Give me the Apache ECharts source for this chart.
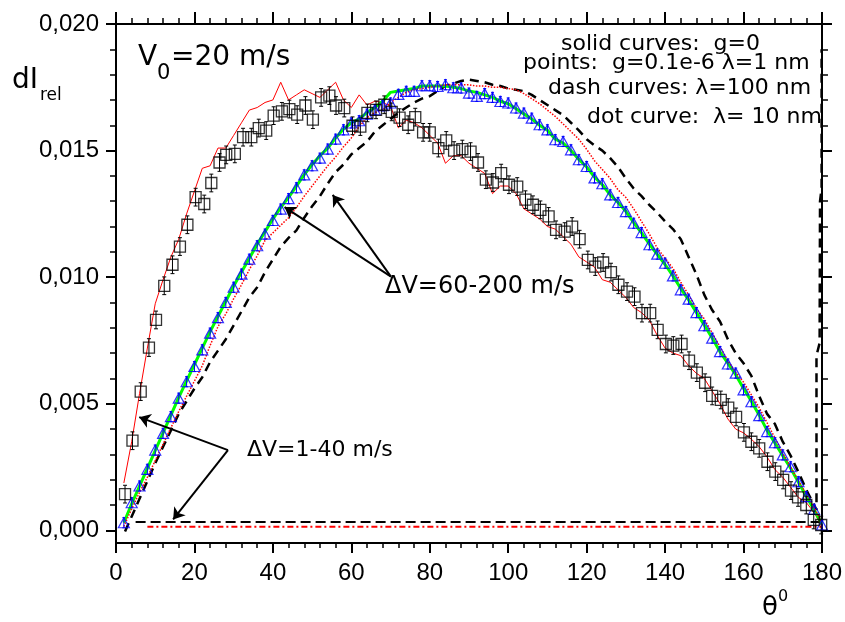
<!DOCTYPE html>
<html><head><meta charset="utf-8">
<script src="https://cdn.jsdelivr.net/npm/echarts@6/dist/echarts.min.js"></script>
<style>html,body{margin:0;padding:0;background:#fff}#c{width:845px;height:622px}</style>
</head><body><div id="c"></div>
<script>
// ---- data (theta in degrees, dI_rel) ----
const thetaGrid = [2,4,6,8,10,12,14,16,18,20,22,24,26,28,30,32,34,36,38,40,42,44,46,48,50,52,54,56,58,60,62,64,66,68,70,72,74,76,78,80,82,84,86,88,90,92,94,96,98,100,102,104,106,108,110,112,114,116,118,120,122,124,126,128,130,132,134,136,138,140,142,144,146,148,150,152,154,156,158,160,162,164,166,168,170,172,174,176,178,180];

// dV=1-40 m/s, g=0 (red solid)
const slowSolid = [0.00187,0.0035,0.0054,0.0072,0.00895,0.0099,0.0108,0.0115,0.0125,0.0134,
0.0143,0.0144,0.0151,0.0151,0.0156,0.0161,0.0166,0.0167,0.0169,0.0170,
0.0177,0.0170,0.0172,0.0174,0.01725,0.0171,0.0174,0.0177,0.0170,0.0167,
0.0172,0.0168,0.01695,0.0169,0.01675,0.0159,0.0162,0.0161,0.0159,0.0156,
0.0153,0.0145,0.0148,0.0148,0.0145,0.0143,0.0141,0.0133,0.0136,0.0136,
0.0133,0.0127,0.0125,0.0123,0.0120,0.0119,0.0116,0.0113,0.0108,0.0106,
0.0104,0.0099,0.0098,0.0095,0.0092,0.0088,0.0086,0.0083,0.0077,0.0072,
0.0070,0.0069,0.0065,0.0062,0.0060,0.0055,0.0050,0.0044,0.0040,0.00385,
0.0036,0.0033,0.0029,0.0024,0.0021,0.0017,0.0013,0.0011,0.0007,0.00015];

// dV=1-40 m/s, points g=0.1e-6 (open squares)
const slowPointsX = [2.3,4.2,6.3,8.4,10.2,12.3,14.4,16.3,18.2,20.3,22.5,24.3,26.4,28.1,30.3,32.4,34.5,36.4,38.3,40.2,
42.3,44.2,46.2,48.3,50.2,52.3,54.4,56.1,58.2,60.3,62.3,64.1,66.3,68.4,70.3,72.3,74.5,76.3,78.3,80.0,
82.2,84.2,86.2,88.3,90.4,92.3,94.3,96.1,98.2,100.2,102.3,104.4,106.3,108.2,110.3,112.2,114.4,116.3,118.2,120.3,
122.2,124.2,126.2,128.1,130.3,132.2,134.1,136.2,138.1,140.2,142.1,144.2,146.1,148.1,150.2,152.0,154.2,156.1,158.1,160.1,
162.0,164.0,166.1,168.1,170.1,172.1,173.9,176.0,177.9,179.8];
const slowPointsY = [0.00143,0.00354,0.00548,0.00722,0.00831,0.00966,0.01049,0.01121,0.01207,0.01316,
0.01289,0.01372,0.01453,0.01483,0.01487,0.01553,0.01553,0.01589,0.01579,0.01638,
0.01655,0.01664,0.01642,0.01678,0.01622,0.01710,0.01717,0.01678,0.01668,0.01598,
0.01595,0.01649,0.01661,0.01681,0.01653,0.01630,0.01602,0.01632,0.01572,0.01572,
0.01510,0.01540,0.01500,0.01506,0.01496,0.01453,0.01385,0.01374,0.01411,0.01365,
0.01358,0.01306,0.01286,0.01266,0.01240,0.01187,0.01180,0.01200,0.01150,0.01068,
0.01042,0.01058,0.01020,0.00970,0.00943,0.00923,0.00858,0.00858,0.00792,0.00736,
0.00730,0.00736,0.00670,0.00623,0.00583,0.00531,0.00515,0.00485,0.00448,0.00387,
0.00350,0.00324,0.00271,0.00232,0.00199,0.00157,0.00130,0.00100,0.00041,0.00021];
const slowPointsErr = 0.00035;

// dV=60-200 m/s, g=0 (green solid)
const fastSolid = [0.0003,0.00105,0.00175,0.00245,0.00315,0.00385,0.00455,0.00525,0.0059,0.00655,
0.0072,0.00785,0.00845,0.00905,0.00965,0.0102,0.01075,0.0113,0.0118,0.0123,
0.01275,0.01315,0.0136,0.01405,0.01445,0.0148,0.0151,0.0155,0.01585,0.0161,
0.01625,0.0165,0.0167,0.01695,0.0173,0.01735,0.0174,0.01745,0.01755,0.01755,
0.01755,0.01755,0.0175,0.01745,0.01735,0.0173,0.0172,0.0171,0.01695,0.01685,
0.01665,0.01645,0.01625,0.0160,0.0158,0.01545,0.0153,0.0150,0.01465,0.01435,
0.01395,0.01365,0.01325,0.01295,0.0126,0.01215,0.01175,0.0113,0.0109,0.0105,
0.01005,0.00955,0.0091,0.0086,0.0081,0.0076,0.00705,0.0066,0.00615,0.0056,
0.0051,0.00455,0.00395,0.00345,0.00295,0.00245,0.0019,0.00135,0.0008,0.00025];

// dV=60-200 m/s, points g=0.1e-6 (open triangles)
const fastPoints = [0.00030,0.00109,0.00175,0.00241,0.00317,0.00383,0.00449,0.00522,0.00587,0.00647,
0.00713,0.00779,0.00840,0.00900,0.00960,0.01012,0.01071,0.01124,0.01170,0.01224,
0.01269,0.01310,0.01353,0.01404,0.01440,0.01470,0.01506,0.01545,0.01582,0.01609,
0.01618,0.01644,0.01661,0.01677,0.01688,0.01722,0.01734,0.01734,0.01756,0.01756,
0.01753,0.01760,0.01748,0.01747,0.01727,0.01714,0.01725,0.01710,0.01694,0.01688,
0.01668,0.01648,0.01628,0.01602,0.01582,0.01543,0.01536,0.01503,0.01464,0.01437,
0.01392,0.01369,0.01325,0.01295,0.01259,0.01213,0.01176,0.01128,0.01091,0.01055,
0.01005,0.00950,0.00913,0.00860,0.00808,0.00759,0.00706,0.00657,0.00621,0.00555,
0.00508,0.00453,0.00390,0.00346,0.00298,0.00251,0.00192,0.00133,0.00083,0.00021];
const fastPointsErr = 0.0002;

// dV=60-200 m/s, lambda=10 nm (red dotted)
const fastDot = [0.00015,0.00085,0.0015,0.0021,0.00275,0.0034,0.00405,0.0047,0.0053,0.0059,
0.0065,0.0073,0.00805,0.00855,0.00915,0.0097,0.0103,0.01085,0.01145,0.01175,
0.01205,0.01235,0.01275,0.0132,0.0136,0.0140,0.0144,0.01475,0.01515,0.0155,
0.01595,0.0163,0.0165,0.0166,0.0169,0.0171,0.0173,0.0174,0.01745,0.0175,
0.01755,0.0176,0.0176,0.0176,0.0176,0.01755,0.01755,0.0175,0.0175,0.01745,
0.0174,0.01725,0.01705,0.01685,0.0166,0.01635,0.01605,0.01575,0.01545,0.01505,
0.0146,0.01425,0.0139,0.01345,0.01315,0.0127,0.0122,0.0117,0.01115,0.01075,
0.01035,0.0098,0.0093,0.00875,0.00835,0.0078,0.00725,0.0067,0.00625,0.00585,
0.00535,0.00485,0.00425,0.00365,0.00305,0.0025,0.00195,0.00145,0.0009,0.0003];

// dV=60-200 m/s, lambda=100 nm (black dashed)
const fastDashX = [2.3,4,6,8,10,12,14,16,18,20,22,24,26,28,30,32,34,36,38,40,42,44,46,48,50,52,54,56,58,60,62,64,66,68,70,72,74,76,78,80,82,84,86,88,90,92,94,96,98,100,102,104,106,108,110,112,114,116,118,120,122,124,126,128,130,132,134,136,138,140,142,144,146,148,150,152,154,156,158,160,162,164,166,168,170,172,174,176,178,178.6,178.6,179.4,179.5,179.9,179.9];
const fastDashY = [-0.00005,0.00055,0.00125,0.00195,0.00265,0.0033,0.00395,0.0046,0.0051,0.0056,
0.00605,0.00665,0.0071,0.00755,0.0081,0.00865,0.0092,0.0096,0.0102,0.0107,
0.0112,0.01155,0.01185,0.01235,0.0128,0.0132,0.0137,0.01415,0.01445,0.01485,
0.0151,0.01535,0.01575,0.0160,0.01625,0.0165,0.0167,0.0169,0.01705,0.01715,
0.01735,0.01755,0.01765,0.01775,0.0178,0.01775,0.0177,0.0176,0.01755,0.01745,
0.0174,0.01735,0.0172,0.0170,0.0168,0.0166,0.0164,0.0161,0.0158,0.01545,
0.0152,0.0150,0.0147,0.01435,0.0139,0.0135,0.0132,0.01285,0.01255,0.0122,
0.0119,0.0115,0.0108,0.0101,0.0093,0.0087,0.00825,0.00755,0.0070,0.0066,
0.0061,0.0053,0.0046,0.0042,0.0035,0.00295,0.0023,0.0016,0.0010,
0.0008,0.0069,0.0074,0.0130,0.0135,0.0190];

// dV=1-40 m/s, lambda=100 nm (black dashed) and lambda=10 nm (red dash-dot)
const slowDashX = [5, 180];
const slowDashY = [0.00033, 0.00033];
const slowDotX = [8, 180];
const slowDotY = [0.00014, 0.00014];

// axis ticks
const yMajorTicks = [0, 0.005, 0.010, 0.015, 0.020];
const yMinorTicks = [0.001,0.002,0.003,0.004,0.006,0.007,0.008,0.009,0.011,0.012,0.013,0.014,0.016,0.017,0.018,0.019];

// annotation arrows [from, to] in data coordinates
const arrowsFast = [[[70.1, 0.01002],[55.25, 0.01325]], [[70.1, 0.01002],[42.97, 0.01277]]];
const arrowsSlow = [[[28.55, 0.00317],[5.92, 0.00447]], [[28.55, 0.00317],[14.57, 0.00043]]];

// ---- chart ----
const FF = '"DejaVu Sans", sans-serif';
const TF = '"Liberation Sans", Arial, sans-serif';
const pair = (xs, ys) => xs.map((x, i) => [x, ys[i]]);

function xAx(pos, len, mlen, showLabel) {
  return {type:'value', position:pos, min:0, max:180, interval:20,
    axisLine:{show:true, onZero:false, lineStyle:{color:'#000', width:2}},
    axisTick:{show:true, inside:false, length:len, lineStyle:{color:'#000', width:2}},
    minorTick:{show:true, splitNumber:5, length:mlen, lineStyle:{color:'#000', width:1.5}},
    axisLabel:{show:showLabel, margin:18, fontSize:24, fontFamily:TF, color:'#000'},
    splitLine:{show:false}, minorSplitLine:{show:false}};
}
function yAx(pos, ticks, len, w, showLabel, showLine) {
  return {type:'value', position:pos, min:-0.0005, max:0.020,
    axisLine:{show:showLine, onZero:false, lineStyle:{color:'#000', width:2}},
    axisTick:{show:true, inside:false, length:len, customValues:ticks, lineStyle:{color:'#000', width:w}},
    axisLabel:{show:showLabel, customValues:ticks, margin:17, fontSize:24, fontFamily:TF, color:'#000',
      formatter: v => v.toFixed(3).replace('.', ',')},
    splitLine:{show:false}};
}
function errSeries(xs, ys, e, color, cap) {
  return {type:'custom', xAxisIndex:0, yAxisIndex:0, silent:true, z:4,
    data: xs.map((x, i) => [x, ys[i], e]),
    encode:{x:0, y:1},
    renderItem: (params, api) => {
      const x = api.value(0), y = api.value(1), d = api.value(2);
      const t = api.coord([x, y + d]), b = api.coord([x, y - d]);
      const st = {stroke:color, lineWidth:1};
      return {type:'group', children:[
        {type:'line', shape:{x1:t[0], y1:t[1], x2:b[0], y2:b[1]}, style:st},
        {type:'line', shape:{x1:t[0]-cap, y1:t[1], x2:t[0]+cap, y2:t[1]}, style:st},
        {type:'line', shape:{x1:b[0]-cap, y1:b[1], x2:b[0]+cap, y2:b[1]}, style:st}
      ]};
    }};
}
function txt(x, y, s, size) {
  return {type:'text', x:x, y:y, silent:true, z:100,
    style:{text:s, font: size + 'px ' + FF, fill:'#000', textAlign:'left', textVerticalAlign:'middle'}};
}
const arrowLines = arrowsFast.concat(arrowsSlow).map(a => [{coord:a[0]}, {coord:a[1]}]);

const chart = echarts.init(document.getElementById('c'), null, {renderer:'canvas'});
chart.setOption({
  animation:false,
  backgroundColor:'#fff',
  grid:{left:116, right:21, top:24, bottom:79, containLabel:false},
  xAxis:[xAx('bottom', 10, 5, true), xAx('top', 12, 6, false)],
  yAxis:[yAx('left', yMajorTicks, 10, 2, true, true), yAx('left', yMinorTicks, 6, 1.5, false, false),
         yAx('right', yMajorTicks, 10, 2, false, true), yAx('right', yMinorTicks, 6, 1.5, false, false)],
  series:[
    {type:'line', name:'slowDash', data:pair(slowDashX, slowDashY), showSymbol:false, z:2,
      lineStyle:{color:'#000', width:2, type:[10,5]}},
    {type:'line', name:'slowDot', data:pair(slowDotX, slowDotY), showSymbol:false, z:2,
      lineStyle:{color:'#ff0000', width:2, type:[6,3,2,3]}},
    {type:'line', name:'slowSolid', data:pair(thetaGrid, slowSolid), showSymbol:false, z:2,
      lineStyle:{color:'#ff0000', width:1}},
    {type:'line', name:'fastDash', data:pair(fastDashX, fastDashY), showSymbol:false, z:2,
      lineStyle:{color:'#000', width:2.5, type:[9,6]}},
    {type:'line', name:'fastSolid', data:pair(thetaGrid, fastSolid), showSymbol:false, z:2,
      lineStyle:{color:'#00ff00', width:3}},
    {type:'line', name:'fastDot', data:pair(thetaGrid, fastDot), showSymbol:false, z:3,
      lineStyle:{color:'#ff0000', width:1.5, type:'dotted'}},
    errSeries(thetaGrid, fastPoints, fastPointsErr, '#0000ff', 1.5),
    {type:'scatter', name:'fastPoints', data:pair(thetaGrid, fastPoints), symbol:'triangle', symbolSize:[11,10], z:5,
      itemStyle:{color:'rgba(0,0,0,0)', borderColor:'#0000ff', borderWidth:1.2}},
    errSeries(slowPointsX, slowPointsY, slowPointsErr, '#000', 2),
    {type:'scatter', name:'slowPoints', data:pair(slowPointsX, slowPointsY), symbol:'rect', symbolSize:11, z:5,
      itemStyle:{color:'rgba(0,0,0,0)', borderColor:'#000', borderWidth:1.3}},
    {type:'line', name:'arrows', data:[], z:6,
      markLine:{silent:true, symbol:['none','arrow'], symbolSize:11, label:{show:false},
        lineStyle:{color:'#000', width:2, type:'solid'}, emphasis:{disabled:true}, data:arrowLines}}
  ],
  graphic:[
    txt(138, 57.5, 'V', 28), txt(157, 73.5, '0', 21), txt(171, 57.5, '=20 m/s', 28),
    txt(12, 80.5, 'dI', 28), txt(40, 96, 'rel', 17),
    txt(762, 608, 'θ', 26), txt(778, 597, '0', 16),
    txt(561, 44, 'solid curves:  g=0', 22),
    txt(523, 63.7, 'points:  g=0.1e-6 λ=1 nm', 22),
    txt(548, 88.7, 'dash curves: λ=100 nm', 22),
    txt(587, 117, 'dot curve:  λ= 10 nm', 22),
    txt(385, 286.5, 'ΔV=60-200 m/s', 24),
    txt(247, 450, 'ΔV=1-40 m/s', 22)
  ]
});
</script></body></html>
